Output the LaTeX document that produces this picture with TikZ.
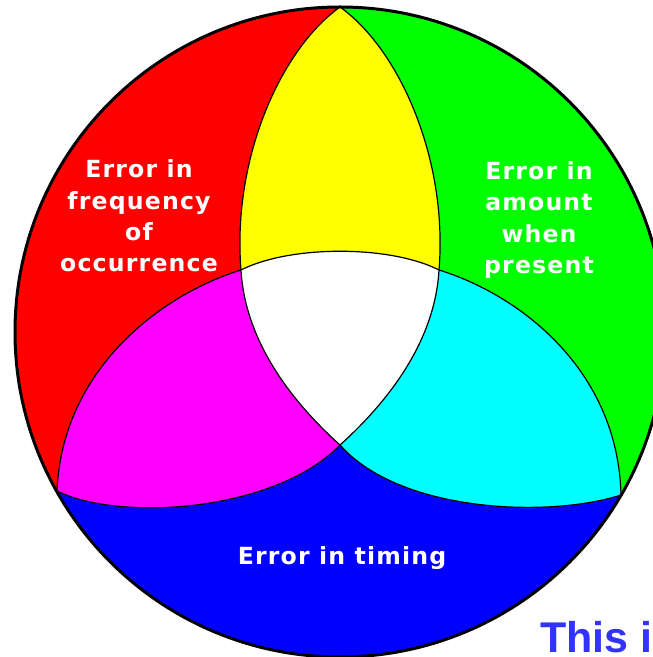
\documentclass[tikz,border=0pt]{standalone}
\usepackage{fontspec}
\usepackage{tikz}
\usetikzlibrary{positioning,calc}
\newfontfamily\lblfont[LetterSpace=5]{DejaVu Sans}
\newfontfamily\notefont{Liberation Sans}
\definecolor{mixred}{HTML}{FF0000}
\definecolor{mixgreen}{HTML}{00FF00}
\definecolor{mixblue}{HTML}{0000FF}
\definecolor{mixyellow}{HTML}{FFFF00}
\definecolor{mixmagenta}{HTML}{FF00FF}
\definecolor{mixcyan}{HTML}{00FFFF}
\definecolor{noteblue}{HTML}{3333FF}

\begin{document}
\begin{tikzpicture}[x=0.5pt, y=-0.5pt, line join=round]
  \tikzset{edge/.style={draw=black, line width=0.6pt},
           rim/.style={draw=black, line width=1.5pt},
           lbl/.style={text=white, font=\lblfont\bfseries\fontsize{11.8}{15.6}\selectfont, align=center, inner sep=0}}
  \useasboundingbox (0,0) rectangle (652,657);
  % junctions
  \coordinate (O) at (340,332);
  \coordinate (T) at (340,7);
  \coordinate (A) at (241,270);
  \coordinate (B) at (439,270);
  \coordinate (C) at (340,445);
  \coordinate (L) at (57,491);
  \coordinate (R) at (621,495);
  \coordinate (EL) at (-30,540);
  \coordinate (ER) at (707,545);
  \begin{scope}
    \clip (O) circle[radius=325];
    % outer parts
    \fill[mixred] (T) .. controls (280,50) and (232,160) .. (A) .. controls (160,295) and (62,370) .. (L)
      -- (EL) -- (-50,-50) -- (340,-50) -- cycle;
    \fill[mixgreen] (T) .. controls (400,50) and (448,160) .. (B) .. controls (520,295) and (618,370) .. (R)
      -- (ER) -- (720,-50) -- (340,-50) -- cycle;
    \fill[mixblue] (L) .. controls (120,522) and (275,512) .. (C) .. controls (400,513) and (550,518) .. (R)
      -- (ER) -- (720,720) -- (-50,720) -- (EL) -- cycle;
    % overlaps
    \fill[mixyellow] (T) .. controls (280,50) and (232,160) .. (A) .. controls (290,245) and (390,245) .. (B)
      .. controls (448,160) and (400,50) .. (T) -- cycle;
    \fill[mixmagenta] (A) .. controls (245,340) and (290,400) .. (C) .. controls (275,512) and (120,522) .. (L)
      .. controls (62,370) and (160,295) .. (A) -- cycle;
    \fill[mixcyan] (B) .. controls (435,340) and (390,400) .. (C) .. controls (400,513) and (550,518) .. (R)
      .. controls (618,370) and (520,295) .. (B) -- cycle;
    \fill[white] (A) .. controls (290,245) and (390,245) .. (B) .. controls (435,340) and (390,400) .. (C)
      .. controls (290,400) and (245,340) .. (A) -- cycle;
    % inner borders
    \draw[edge] (T) .. controls (280,50) and (232,160) .. (A);
    \draw[edge] (T) .. controls (400,50) and (448,160) .. (B);
    \draw[edge] (A) .. controls (290,245) and (390,245) .. (B);
    \draw[edge] (A) .. controls (245,340) and (290,400) .. (C);
    \draw[edge] (B) .. controls (435,340) and (390,400) .. (C);
    \draw[edge] (A) .. controls (160,295) and (62,370) .. (L);
    \draw[edge] (B) .. controls (520,295) and (618,370) .. (R);
    \draw[edge] (L) .. controls (120,522) and (275,512) .. (C);
    \draw[edge] (C) .. controls (400,513) and (550,518) .. (R);
  \end{scope}
  \draw[rim] (O) circle[radius=325];
  % labels
  \node[lbl] (freq) at (139,216) {Error in\\frequency\\of\\occurrence};
  \node[lbl] (amount) at (539,220) {Error in\\amount\\when\\present};
  \node[lbl, anchor=base] (timing) at (342,564) {Error in timing};
  \node[anchor=base west, inner sep=0, text=noteblue, font=\notefont\bfseries\fontsize{21.5}{24}\selectfont] (note) at (540,652) {This i};
\end{tikzpicture}
\end{document}
